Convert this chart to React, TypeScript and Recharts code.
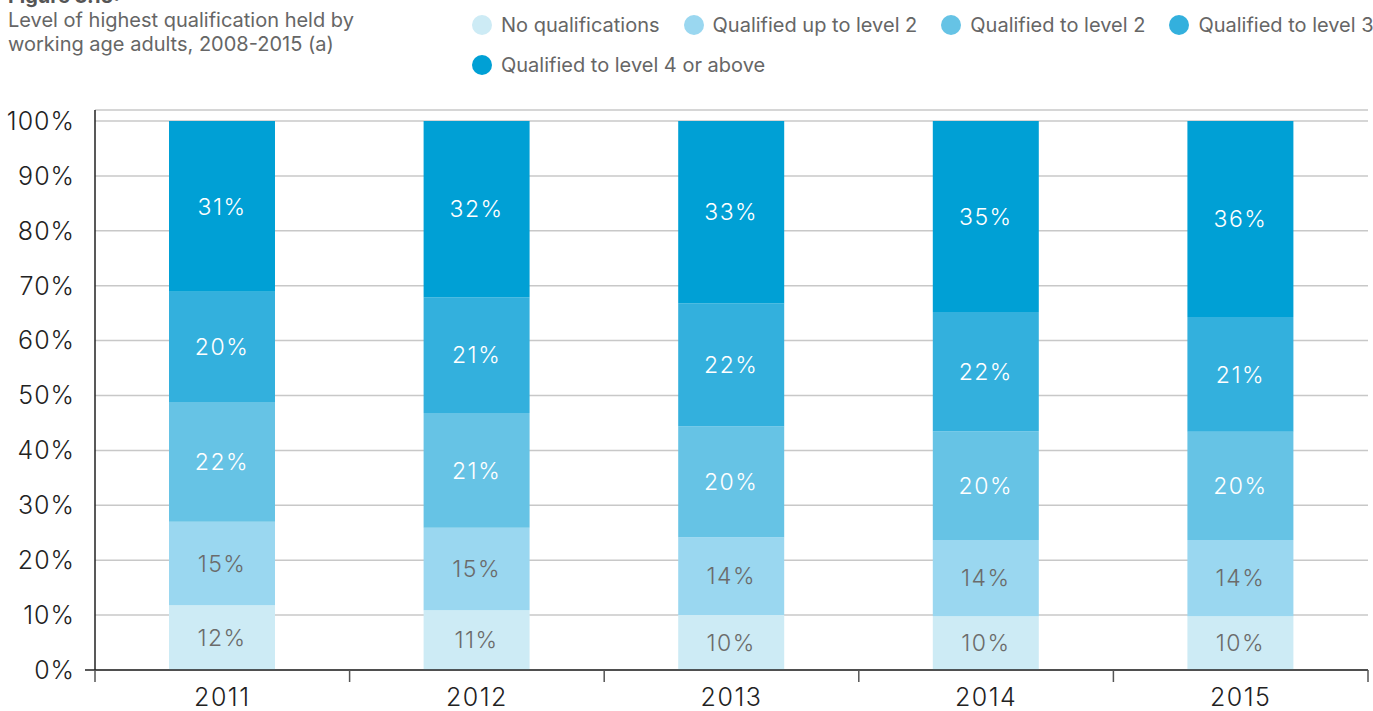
import React from "react";
import { BarChart, Bar, XAxis, YAxis, CartesianGrid, LabelList } from "recharts";

// Years on the category axis
const years = ["2011", "2012", "2013", "2014", "2015"];

// Share of working age adults (%) by highest qualification held
const noQualifications = [11.8, 10.9, 10.0, 9.8, 9.8];
const upToLevel2 = [15.2, 15.0, 14.2, 13.9, 13.9];
const toLevel2 = [21.8, 20.9, 20.2, 19.8, 19.7];
const toLevel3 = [20.1, 21.1, 22.4, 21.7, 20.9];
const toLevel4Plus = [31.1, 32.1, 33.2, 34.8, 35.7];

const yTicks = [0, 10, 20, 30, 40, 50, 60, 70, 80, 90, 100];

const series = [
  { key: "none", name: "No qualifications", values: noQualifications, color: "#cdebf5", text: "#6b6b6b" },
  { key: "upto2", name: "Qualified up to level 2", values: upToLevel2, color: "#9ad7f0", text: "#6b6b6b" },
  { key: "l2", name: "Qualified to level 2", values: toLevel2, color: "#66c3e5", text: "#ffffff" },
  { key: "l3", name: "Qualified to level 3", values: toLevel3, color: "#33b0dd", text: "#ffffff" },
  { key: "l4", name: "Qualified to level 4 or above", values: toLevel4Plus, color: "#00a0d5", text: "#ffffff" },
];

const data = years.map((year, i) => {
  const row: Record<string, string | number> = { year };
  series.forEach((s) => {
    row[s.key] = s.values[i];
  });
  return row;
});

const FONT = "Inter, 'Noto Sans', sans-serif";
const WIDTH = 1373;
const HEIGHT = 711;
const LEFT = 95;
const RIGHT = 5;
const BAND = (WIDTH - LEFT - RIGHT) / years.length;

const YearTick = (props: any) => {
  const { x, y, payload, index } = props;
  const axisY = y - 8;
  const left = x - BAND / 2;
  return (
    <g>
      {index === 0 && <line x1={left - 10} y1={axisY} x2={left} y2={axisY} stroke="#222" strokeWidth={1.5} />}
      <line x1={left} y1={axisY} x2={left} y2={axisY + 12} stroke="#555" strokeWidth={1.5} />
      {index === years.length - 1 && (
        <line x1={x + BAND / 2} y1={axisY} x2={x + BAND / 2} y2={axisY + 12} stroke="#555" strokeWidth={1.5} />
      )}
      <text
        x={x}
        y={axisY + 36}
        textAnchor="middle"
        fill="#222"
        fontSize={25}
        fontWeight={300}
        letterSpacing={1.5}
        fontFamily={FONT}
      >
        {payload.value}
      </text>
    </g>
  );
};

const LegendBlock = () => (
  <div
    style={{
      position: "absolute",
      top: 12,
      left: 472,
      width: 910,
      display: "flex",
      flexWrap: "wrap",
      columnGap: 24,
      rowGap: 14,
      fontFamily: FONT,
      fontSize: 20,
      color: "#666",
      zIndex: 2,
    }}
  >
    {series.map((s) => (
      <div key={s.key} style={{ display: "flex", alignItems: "center", height: 26 }}>
        <span
          style={{
            display: "inline-block",
            width: 20,
            height: 20,
            borderRadius: 10,
            background: s.color,
            marginRight: 9,
          }}
        />
        <span>{s.name}</span>
      </div>
    ))}
  </div>
);

export default function App() {
  return (
    <div style={{ position: "absolute", left: 0, top: 0, width: WIDTH, height: HEIGHT, background: "#fff", overflow: "hidden" }}>
      <div
        style={{
          position: "absolute",
          left: 8,
          top: -16,
          fontFamily: FONT,
          fontSize: 20,
          lineHeight: "24px",
          color: "#666",
          zIndex: 2,
        }}
      >
        <div style={{ fontWeight: 700, color: "#555" }}>Figure 3.15:</div>
        <div>Level of highest qualification held by</div>
        <div>working age adults, 2008-2015 (a)</div>
      </div>
      <LegendBlock />
      <BarChart
        width={WIDTH}
        height={HEIGHT}
        data={data}
        margin={{ top: 110, right: RIGHT, bottom: 0, left: 0 }}
        barSize={106}
      >
        <CartesianGrid vertical={false} stroke="#c8c8c8" strokeWidth={1.5} />
        <XAxis
          dataKey="year"
          axisLine={{ stroke: "#222", strokeWidth: 1.5 }}
          tickLine={false}
          height={41}
          tick={<YearTick />}
          interval={0}
        />
        <YAxis
          domain={[0, 102]}
          ticks={yTicks}
          width={LEFT}
          axisLine={{ stroke: "#222", strokeWidth: 1.5 }}
          tickLine={false}
          tickFormatter={(v: number) => `${v}%`}
          tick={{ fill: "#222", fontSize: 25, fontWeight: 300, letterSpacing: 1, fontFamily: FONT, dx: -12 }}
        />
        {series.map((s) => (
          <Bar key={s.key} dataKey={s.key} name={s.name} stackId="q" fill={s.color} isAnimationActive={false}>
            <LabelList
              dataKey={s.key}
              position="center"
              formatter={(v: number) => `${Math.round(v)}%`}
              style={{ fill: s.text, fontSize: 23, fontFamily: FONT, fontWeight: 300, letterSpacing: 1.5 }}
            />
          </Bar>
        ))}
      </BarChart>
    </div>
  );
}
